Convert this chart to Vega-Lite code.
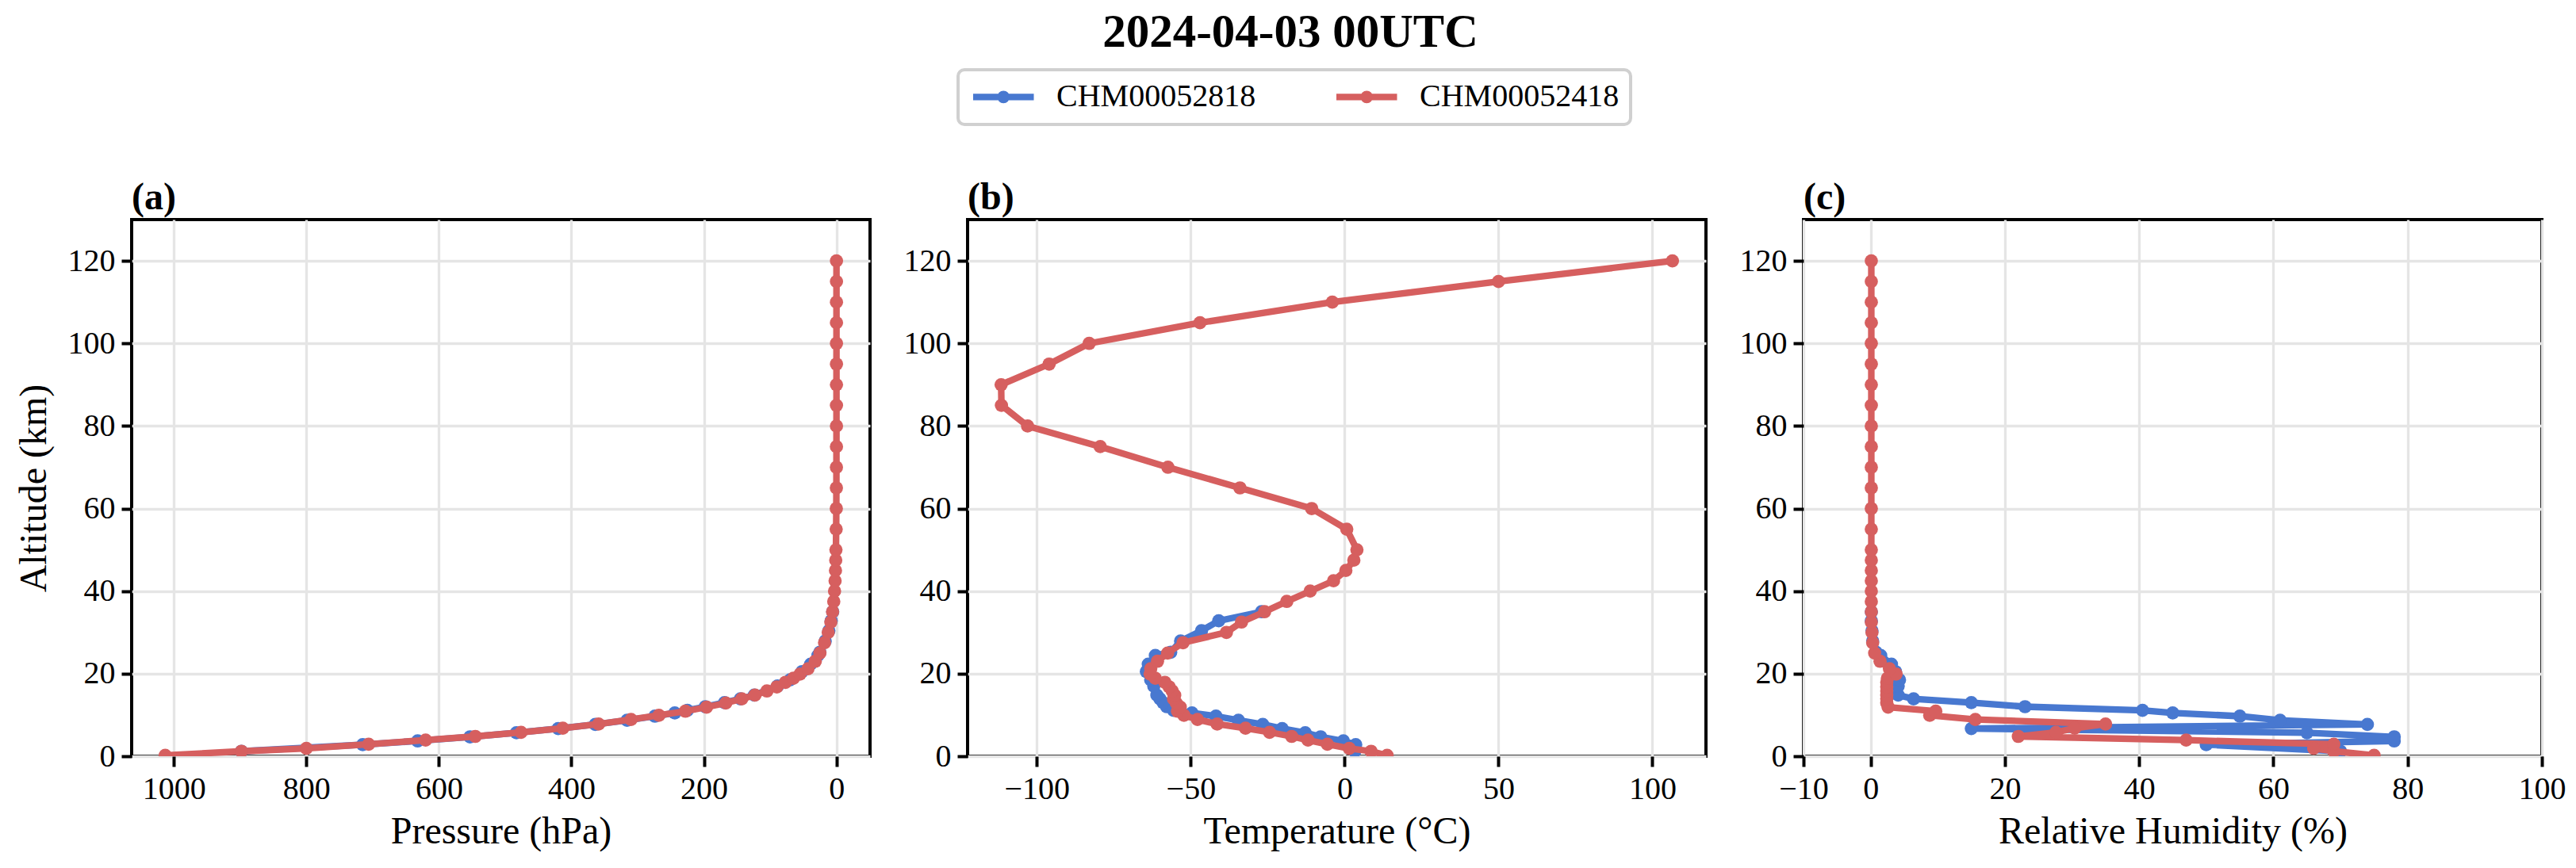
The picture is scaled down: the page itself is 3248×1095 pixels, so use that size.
{
  "$schema": "https://vega.github.io/schema/vega-lite/v6.json",
  "padding": {"left": 17, "top": 12, "right": 20, "bottom": 10},
  "title": {
    "text": "2024-04-03 00UTC",
    "font": "Liberation Serif",
    "fontSize": 59,
    "fontWeight": "bold",
    "color": "black",
    "anchor": "middle",
    "offset": 15
  },
  "datasets": {
    "profiles": [
      {"station": "CHM00052818", "altitude": 1.2, "pressure": 898, "temperature": 3.3, "humidity": 70},
      {"station": "CHM00052818", "altitude": 2.8, "pressure": 715, "temperature": 3.6, "humidity": 50},
      {"station": "CHM00052818", "altitude": 3.7, "pressure": 632, "temperature": -0.4, "humidity": 78},
      {"station": "CHM00052818", "altitude": 4.7, "pressure": 553, "temperature": -7.8, "humidity": 78},
      {"station": "CHM00052818", "altitude": 5.7, "pressure": 483, "temperature": -12.8, "humidity": 65},
      {"station": "CHM00052818", "altitude": 6.7, "pressure": 420, "temperature": -20.3, "humidity": 15},
      {"station": "CHM00052818", "altitude": 7.7, "pressure": 364, "temperature": -26.6, "humidity": 74},
      {"station": "CHM00052818", "altitude": 8.7, "pressure": 316, "temperature": -34.5, "humidity": 61},
      {"station": "CHM00052818", "altitude": 9.7, "pressure": 274, "temperature": -41.8, "humidity": 55},
      {"station": "CHM00052818", "altitude": 10.5, "pressure": 244, "temperature": -49.6, "humidity": 45},
      {"station": "CHM00052818", "altitude": 11.1, "pressure": 225, "temperature": -55.6, "humidity": 40.5},
      {"station": "CHM00052818", "altitude": 12.0, "pressure": 198, "temperature": -57.8, "humidity": 23},
      {"station": "CHM00052818", "altitude": 13.0, "pressure": 169, "temperature": -59, "humidity": 15},
      {"station": "CHM00052818", "altitude": 13.9, "pressure": 145, "temperature": -60, "humidity": 6.4},
      {"station": "CHM00052818", "altitude": 14.8, "pressure": 124, "temperature": -61, "humidity": 4.1},
      {"station": "CHM00052818", "altitude": 17.0, "pressure": 89, "temperature": -62, "humidity": 4.1},
      {"station": "CHM00052818", "altitude": 18.5, "pressure": 70, "temperature": -63, "humidity": 4.3},
      {"station": "CHM00052818", "altitude": 20.5, "pressure": 52, "temperature": -64.4, "humidity": 3.7},
      {"station": "CHM00052818", "altitude": 22.3, "pressure": 39, "temperature": -63.8, "humidity": 3.1},
      {"station": "CHM00052818", "altitude": 24.4, "pressure": 28, "temperature": -61.5, "humidity": 1.5},
      {"station": "CHM00052818", "altitude": 25.2, "pressure": 25, "temperature": -56.5, "humidity": 0.8},
      {"station": "CHM00052818", "altitude": 27.9, "pressure": 17, "temperature": -53.3, "humidity": 0.3},
      {"station": "CHM00052818", "altitude": 30.4, "pressure": 11.5, "temperature": -46.5, "humidity": 0.2},
      {"station": "CHM00052818", "altitude": 32.8, "pressure": 8, "temperature": -40.9, "humidity": 0.1},
      {"station": "CHM00052818", "altitude": 35.0, "pressure": 5.7, "temperature": -27, "humidity": 0.1},
      {"station": "CHM00052418", "altitude": 0.2, "pressure": 1013, "temperature": 13.8, "humidity": 75},
      {"station": "CHM00052418", "altitude": 1.2, "pressure": 898, "temperature": 8.6, "humidity": 69},
      {"station": "CHM00052418", "altitude": 1.9, "pressure": 800, "temperature": 1.5, "humidity": 66},
      {"station": "CHM00052418", "altitude": 2.9, "pressure": 706, "temperature": -5.6, "humidity": 69},
      {"station": "CHM00052418", "altitude": 3.9, "pressure": 620, "temperature": -11.9, "humidity": 47},
      {"station": "CHM00052418", "altitude": 4.8, "pressure": 545, "temperature": -17.2, "humidity": 22},
      {"station": "CHM00052418", "altitude": 5.8, "pressure": 476, "temperature": -24.4, "humidity": 27.6},
      {"station": "CHM00052418", "altitude": 6.8, "pressure": 413, "temperature": -32.2, "humidity": 30.4},
      {"station": "CHM00052418", "altitude": 7.8, "pressure": 359, "temperature": -41.4, "humidity": 35},
      {"station": "CHM00052418", "altitude": 8.9, "pressure": 310, "temperature": -47.8, "humidity": 15.6},
      {"station": "CHM00052418", "altitude": 9.9, "pressure": 268, "temperature": -52.2, "humidity": 8.8},
      {"station": "CHM00052418", "altitude": 10.9, "pressure": 228, "temperature": -54.3, "humidity": 9.7},
      {"station": "CHM00052418", "altitude": 11.9, "pressure": 196, "temperature": -53.4, "humidity": 2.6},
      {"station": "CHM00052418", "altitude": 12.9, "pressure": 167, "temperature": -54.7, "humidity": 2.4},
      {"station": "CHM00052418", "altitude": 13.9, "pressure": 143, "temperature": -55.6, "humidity": 2.4},
      {"station": "CHM00052418", "altitude": 14.8, "pressure": 123, "temperature": -55.2, "humidity": 2.4},
      {"station": "CHM00052418", "altitude": 15.8, "pressure": 105, "temperature": -56, "humidity": 2.4},
      {"station": "CHM00052418", "altitude": 16.8, "pressure": 90, "temperature": -57, "humidity": 2.4},
      {"station": "CHM00052418", "altitude": 17.9, "pressure": 77, "temperature": -58.4, "humidity": 2.4},
      {"station": "CHM00052418", "altitude": 18.9, "pressure": 65, "temperature": -61.5, "humidity": 2.5},
      {"station": "CHM00052418", "altitude": 19.9, "pressure": 55, "temperature": -63.2, "humidity": 3.8},
      {"station": "CHM00052418", "altitude": 21.2, "pressure": 43, "temperature": -63, "humidity": 2.8},
      {"station": "CHM00052418", "altitude": 23.0, "pressure": 32, "temperature": -60.8, "humidity": 1.4},
      {"station": "CHM00052418", "altitude": 25.0, "pressure": 25, "temperature": -57.5, "humidity": 0.6},
      {"station": "CHM00052418", "altitude": 27.5, "pressure": 18, "temperature": -52.5, "humidity": 0.3},
      {"station": "CHM00052418", "altitude": 30.0, "pressure": 12.5, "temperature": -38.4, "humidity": 0.2},
      {"station": "CHM00052418", "altitude": 32.5, "pressure": 8.5, "temperature": -33.5, "humidity": 0.1},
      {"station": "CHM00052418", "altitude": 35.0, "pressure": 5.9, "temperature": -26, "humidity": 0.1},
      {"station": "CHM00052418", "altitude": 37.5, "pressure": 4.1, "temperature": -18.8, "humidity": 0.1},
      {"station": "CHM00052418", "altitude": 40.0, "pressure": 2.9, "temperature": -11.2, "humidity": 0.1},
      {"station": "CHM00052418", "altitude": 42.5, "pressure": 2.1, "temperature": -3.6, "humidity": 0.1},
      {"station": "CHM00052418", "altitude": 45.0, "pressure": 1.5, "temperature": 0.4, "humidity": 0.1},
      {"station": "CHM00052418", "altitude": 47.5, "pressure": 1.1, "temperature": 3, "humidity": 0.1},
      {"station": "CHM00052418", "altitude": 50.0, "pressure": 0.8, "temperature": 4, "humidity": 0.1},
      {"station": "CHM00052418", "altitude": 55.0, "pressure": 0.45, "temperature": 0.7, "humidity": 0.1},
      {"station": "CHM00052418", "altitude": 60.0, "pressure": 0.25, "temperature": -10.7, "humidity": 0.1},
      {"station": "CHM00052418", "altitude": 65.0, "pressure": 0.12, "temperature": -34, "humidity": 0.1},
      {"station": "CHM00052418", "altitude": 70.0, "pressure": 0.06, "temperature": -57.4, "humidity": 0.1},
      {"station": "CHM00052418", "altitude": 75.0, "pressure": 0.03, "temperature": -79.4, "humidity": 0.1},
      {"station": "CHM00052418", "altitude": 80.0, "pressure": 0.01, "temperature": -103, "humidity": 0.1},
      {"station": "CHM00052418", "altitude": 85.0, "pressure": 0.005, "temperature": -111.5, "humidity": 0.1},
      {"station": "CHM00052418", "altitude": 90.0, "pressure": 0.002, "temperature": -111.6, "humidity": 0.1},
      {"station": "CHM00052418", "altitude": 95.0, "pressure": 0.001, "temperature": -96, "humidity": 0.1},
      {"station": "CHM00052418", "altitude": 100.0, "pressure": 0.0003, "temperature": -83, "humidity": 0.1},
      {"station": "CHM00052418", "altitude": 105.0, "pressure": 0.0001, "temperature": -47, "humidity": 0.1},
      {"station": "CHM00052418", "altitude": 110.0, "pressure": 0, "temperature": -4, "humidity": 0.1},
      {"station": "CHM00052418", "altitude": 115.0, "pressure": 0, "temperature": 50, "humidity": 0.1},
      {"station": "CHM00052418", "altitude": 120.0, "pressure": 0, "temperature": 106.5, "humidity": 0.1}
    ]
  },
  "data": {"name": "profiles"},
  "bounds": "flush",
  "spacing": 123,
  "hconcat": [
    {
      "width": 931,
      "height": 677,
      "title": {"text": "(a)", "anchor": "start", "frame": "group", "font": "Liberation Serif", "fontSize": 48, "fontWeight": "bold", "color": "black", "offset": 3},
      "encoding": {
        "x": {"field": "pressure", "type": "quantitative", "title": "Pressure (hPa)",
              "scale": {"domain": [-50.65, 1063.65], "reverse": true, "nice": false, "zero": false},
              "axis": {"values": [0, 200, 400, 600, 800, 1000], "format": "d"}},
        "y": {"field": "altitude", "type": "quantitative", "title": "Altitude (km)",
              "scale": {"domain": [0, 130], "nice": false, "zero": false},
              "axis": {"values": [0, 20, 40, 60, 80, 100, 120]}},
        "order": {"field": "altitude", "type": "quantitative"},
        "color": {"field": "station", "type": "nominal",
                  "scale": {"domain": ["CHM00052818", "CHM00052418"], "range": ["#4878d0", "#d65f5f"]},
                  "legend": {"orient": "none", "legendX": 1042, "legendY": -189, "direction": "horizontal", "title": null,
                             "symbolType": "M-1,0L4.1,0M1.3,0A0.25,0.25,0,1,0,1.8,0A0.25,0.25,0,1,0,1.3,0",
                             "symbolSize": 900, "symbolStrokeWidth": 8.3,
                             "labelFont": "Liberation Serif", "labelFontSize": 40, "labelColor": "black", "labelLimit": 600,
                             "labelOffset": 70, "columnPadding": 84, "padding": 14,
                             "strokeColor": "#d0d0d0", "fillColor": "white", "cornerRadius": 8,
                             "encode": {"legend": {"update": {"strokeWidth": {"value": 4}}}}}}
      },
      "layer": [
        {"transform": [{"filter": "datum.station === 'CHM00052818'"}], "mark": {"type": "line", "strokeWidth": 8.3, "strokeJoin": "round", "clip": true}},
        {"transform": [{"filter": "datum.station === 'CHM00052818'"}], "mark": {"type": "circle", "size": 280, "opacity": 1, "clip": true}},
        {"transform": [{"filter": "datum.station === 'CHM00052418'"}], "mark": {"type": "line", "strokeWidth": 8.3, "strokeJoin": "round", "clip": true}},
        {"transform": [{"filter": "datum.station === 'CHM00052418'"}], "mark": {"type": "circle", "size": 280, "opacity": 1, "clip": true}}
      ]
    },
    {
      "width": 931,
      "height": 677,
      "title": {"text": "(b)", "anchor": "start", "frame": "group", "font": "Liberation Serif", "fontSize": 48, "fontWeight": "bold", "color": "black", "offset": 3},
      "encoding": {
        "x": {"field": "temperature", "type": "quantitative", "title": "Temperature (°C)",
              "scale": {"domain": [-122.5, 117.4], "nice": false, "zero": false},
              "axis": {"values": [-100, -50, 0, 50, 100], "format": "d"}},
        "y": {"field": "altitude", "type": "quantitative", "title": null,
              "scale": {"domain": [0, 130], "nice": false, "zero": false},
              "axis": {"values": [0, 20, 40, 60, 80, 100, 120]}},
        "order": {"field": "altitude", "type": "quantitative"},
        "color": {"field": "station", "type": "nominal",
                  "scale": {"domain": ["CHM00052818", "CHM00052418"], "range": ["#4878d0", "#d65f5f"]},
                  "legend": {"orient": "none", "legendX": 1042, "legendY": -189, "direction": "horizontal", "title": null,
                             "symbolType": "M-1,0L4.1,0M1.3,0A0.25,0.25,0,1,0,1.8,0A0.25,0.25,0,1,0,1.3,0",
                             "symbolSize": 900, "symbolStrokeWidth": 8.3,
                             "labelFont": "Liberation Serif", "labelFontSize": 40, "labelColor": "black", "labelLimit": 600,
                             "labelOffset": 70, "columnPadding": 84, "padding": 14,
                             "strokeColor": "#d0d0d0", "fillColor": "white", "cornerRadius": 8,
                             "encode": {"legend": {"update": {"strokeWidth": {"value": 4}}}}}}
      },
      "layer": [
        {"transform": [{"filter": "datum.station === 'CHM00052818'"}], "mark": {"type": "line", "strokeWidth": 8.3, "strokeJoin": "round", "clip": true}},
        {"transform": [{"filter": "datum.station === 'CHM00052818'"}], "mark": {"type": "circle", "size": 280, "opacity": 1, "clip": true}},
        {"transform": [{"filter": "datum.station === 'CHM00052418'"}], "mark": {"type": "line", "strokeWidth": 8.3, "strokeJoin": "round", "clip": true}},
        {"transform": [{"filter": "datum.station === 'CHM00052418'"}], "mark": {"type": "circle", "size": 280, "opacity": 1, "clip": true}}
      ]
    },
    {
      "width": 931,
      "height": 677,
      "title": {"text": "(c)", "anchor": "start", "frame": "group", "font": "Liberation Serif", "fontSize": 48, "fontWeight": "bold", "color": "black", "offset": 3},
      "encoding": {
        "x": {"field": "humidity", "type": "quantitative", "title": "Relative Humidity (%)",
              "scale": {"domain": [-10, 100], "nice": false, "zero": false},
              "axis": {"values": [-10, 0, 20, 40, 60, 80, 100], "format": "d"}},
        "y": {"field": "altitude", "type": "quantitative", "title": null,
              "scale": {"domain": [0, 130], "nice": false, "zero": false},
              "axis": {"values": [0, 20, 40, 60, 80, 100, 120]}},
        "order": {"field": "altitude", "type": "quantitative"},
        "color": {"field": "station", "type": "nominal",
                  "scale": {"domain": ["CHM00052818", "CHM00052418"], "range": ["#4878d0", "#d65f5f"]},
                  "legend": {"orient": "none", "legendX": 1042, "legendY": -189, "direction": "horizontal", "title": null,
                             "symbolType": "M-1,0L4.1,0M1.3,0A0.25,0.25,0,1,0,1.8,0A0.25,0.25,0,1,0,1.3,0",
                             "symbolSize": 900, "symbolStrokeWidth": 8.3,
                             "labelFont": "Liberation Serif", "labelFontSize": 40, "labelColor": "black", "labelLimit": 600,
                             "labelOffset": 70, "columnPadding": 84, "padding": 14,
                             "strokeColor": "#d0d0d0", "fillColor": "white", "cornerRadius": 8,
                             "encode": {"legend": {"update": {"strokeWidth": {"value": 4}}}}}}
      },
      "layer": [
        {"transform": [{"filter": "datum.station === 'CHM00052818'"}], "mark": {"type": "line", "strokeWidth": 8.3, "strokeJoin": "round", "clip": true}},
        {"transform": [{"filter": "datum.station === 'CHM00052818'"}], "mark": {"type": "circle", "size": 280, "opacity": 1, "clip": true}},
        {"transform": [{"filter": "datum.station === 'CHM00052418'"}], "mark": {"type": "line", "strokeWidth": 8.3, "strokeJoin": "round", "clip": true}},
        {"transform": [{"filter": "datum.station === 'CHM00052418'"}], "mark": {"type": "circle", "size": 280, "opacity": 1, "clip": true}}
      ]
    }
  ],
  "config": {
    "font": "Liberation Serif",
    "background": "white",
    "view": {"stroke": "black", "strokeWidth": 4},
    "axis": {
      "labelFont": "Liberation Serif",
      "labelFontSize": 40,
      "labelColor": "black",
      "titleFont": "Liberation Serif",
      "titleFontSize": 48,
      "titleFontWeight": "normal",
      "titleColor": "black",
      "domain": false,
      "tickColor": "black",
      "tickWidth": 4,
      "tickSize": 13,
      "labelPadding": 8,
      "labelFlush": false,
      "labelOverlap": false,
      "gridColor": "#e5e5e5",
      "gridWidth": 3.3
    },
    "axisX": {"titlePadding": 10},
    "axisY": {"titlePadding": 18}
  }
}
